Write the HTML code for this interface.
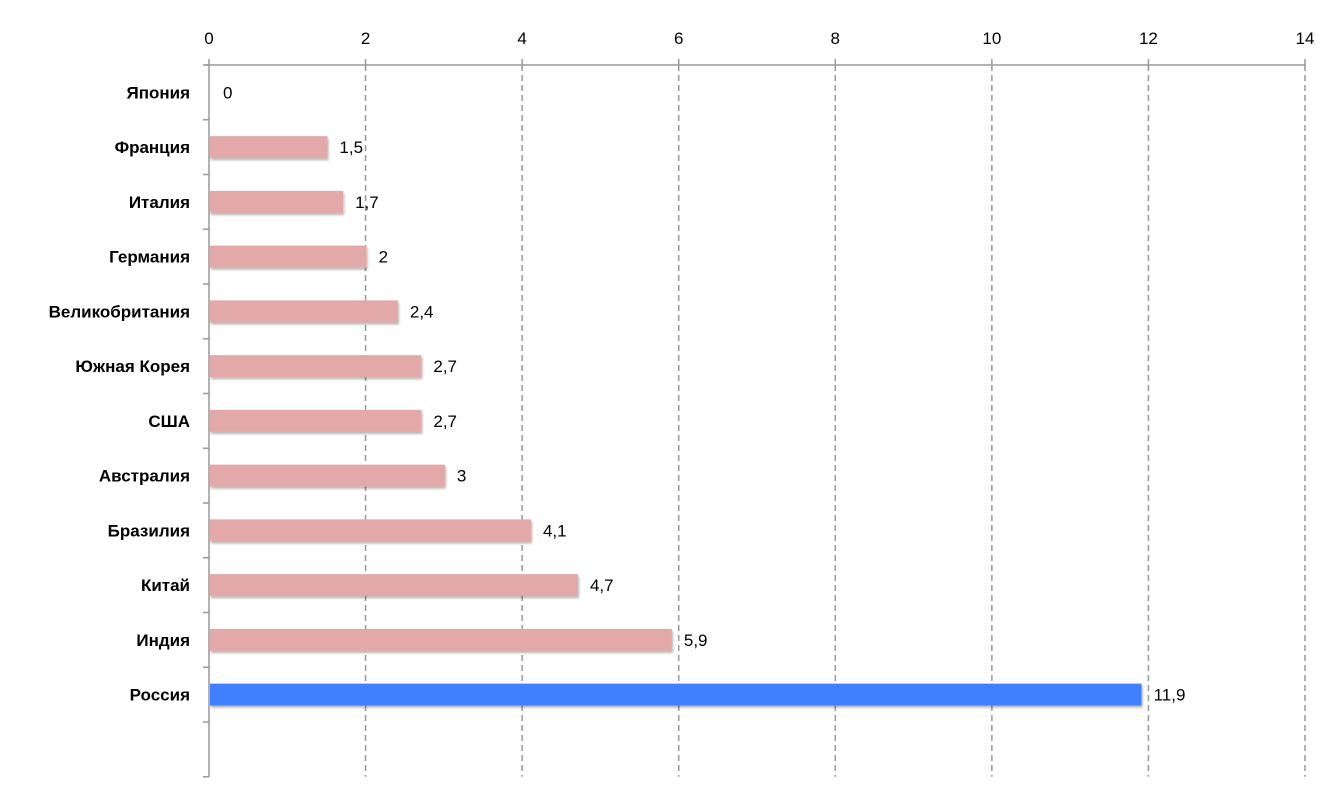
<!DOCTYPE html>
<html><head><meta charset="utf-8"><style>
body{margin:0;background:#fff;}
svg text{font-family:"Liberation Sans",Arial,sans-serif;}
</style></head><body>
<svg width="1340" height="801" xmlns="http://www.w3.org/2000/svg">
<defs><filter id="sh" x="-5%" y="-20%" width="110%" height="160%"><feDropShadow dx="1" dy="2" stdDeviation="1.2" flood-color="#000" flood-opacity="0.3"/></filter></defs>
<g id="grid"></g><g id="bars"></g><g id="axes"></g>
</svg>
<script>
const categories=["Япония","Франция","Италия","Германия","Великобритания","Южная Корея","США","Австралия","Бразилия","Китай","Индия","Россия"];
const values=[0,1.5,1.7,2,2.4,2.7,2.7,3,4.1,4.7,5.9,11.9];
const valueLabels=["0","1,5","1,7","2","2,4","2,7","2,7","3","4,1","4,7","5,9","11,9"];
const ticks=[0,2,4,6,8,10,12,14];
const NS="http://www.w3.org/2000/svg";
const xStart=209,xEnd=1305,plotTop=65,slot=54.75,nSlots=13,plotBottom=plotTop+slot*nSlots;
const xs=v=>xStart+(xEnd-xStart)*v/14;
function el(tag,attrs,parent,txt){const e=document.createElementNS(NS,tag);for(const k in attrs)e.setAttribute(k,attrs[k]);if(txt!==undefined)e.textContent=txt;parent.appendChild(e);return e;}
const grid=document.getElementById('grid'),bars=document.getElementById('bars'),axes=document.getElementById('axes');
ticks.forEach(t=>{
  const x=xs(t);
  if(t>0){const g=el('line',{x1:x,y1:plotTop,x2:x,y2:plotBottom,stroke:'#999','stroke-width':1.5,'stroke-dasharray':'6,4'},grid);
  
  }
  const tk=el('line',{x1:x,y1:plotTop-6,x2:x,y2:plotTop,stroke:'#999','stroke-width':1.5},axes);
  
  
  const tl=el('text',{x:x,y:44,'text-anchor':'middle','font-size':17,fill:'#000'},axes,String(t));
  
  
});
const ax=el('line',{x1:xStart-4,y1:plotTop,x2:xEnd+1,y2:plotTop,stroke:'#999','stroke-width':1.5},axes);


const ay=el('line',{x1:xStart,y1:plotTop,x2:xStart,y2:plotBottom,stroke:'#999','stroke-width':1.5},axes);


for(let i=0;i<=nSlots;i++){const y=plotTop+slot*i;const t=el('line',{x1:xStart-6,y1:y,x2:xStart,y2:y,stroke:'#999','stroke-width':1.5},axes);

}
categories.forEach((c,i)=>{
  const cy=plotTop+slot*(i+0.5);
  const w=xs(values[i])-xStart;
  const last=i===categories.length-1;
  if(w>0){const b=el('rect',{x:xStart+1,y:cy-11,width:w,height:22,fill:last?'#4080ff':'#e2a9a8',filter:'url(#sh)'},bars);
  
  }
  const vl=el('text',{x:xs(values[i])+(w>0?13:14),y:cy+6,'font-size':17,fill:'#000'},bars,valueLabels[i]);
  
  
  const cl=el('text',{x:190,y:cy+6,'text-anchor':'end','font-size':17,'font-weight':'bold',fill:'#000'},axes,c);
  
  
});
</script>
</body></html>
